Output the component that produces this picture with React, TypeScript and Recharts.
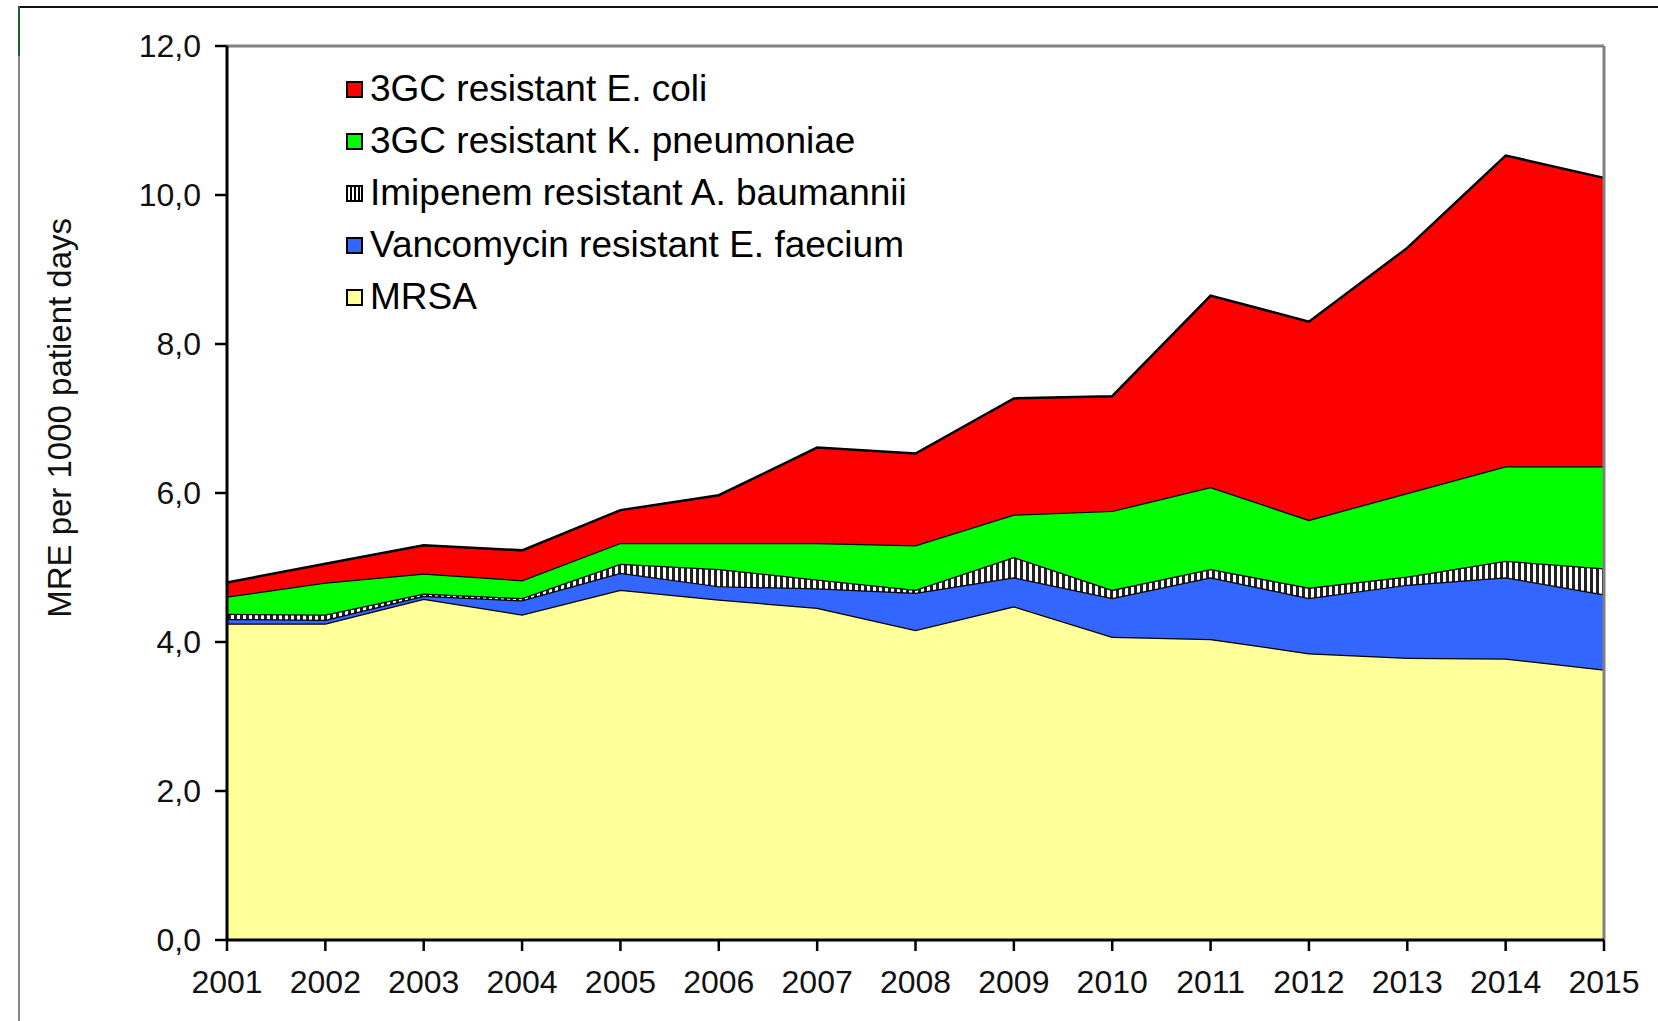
import { Area, AreaChart, Label, Legend, ReferenceLine, XAxis, YAxis } from 'recharts';

const years = ['2001', '2002', '2003', '2004', '2005', '2006', '2007', '2008', '2009', '2010', '2011', '2012', '2013', '2014', '2015'];

// per-pathogen rates, stacked bottom to top
const mrsa = [4.25, 4.25, 4.58, 4.37, 4.70, 4.57, 4.46, 4.16, 4.48, 4.07, 4.04, 3.85, 3.79, 3.78, 3.63];
const vre = [0.06, 0.05, 0.04, 0.19, 0.23, 0.18, 0.26, 0.50, 0.39, 0.52, 0.83, 0.74, 0.98, 1.09, 1.01];
const abau = [0.07, 0.07, 0.03, 0.03, 0.12, 0.23, 0.12, 0.04, 0.27, 0.11, 0.11, 0.14, 0.11, 0.22, 0.35];
const kpn = [0.23, 0.43, 0.27, 0.24, 0.28, 0.35, 0.49, 0.60, 0.57, 1.06, 1.10, 0.91, 1.12, 1.27, 1.37];
const ecoli = [0.19, 0.25, 0.38, 0.40, 0.44, 0.64, 1.28, 1.23, 1.56, 1.54, 2.57, 2.66, 3.29, 4.17, 3.87];

const yTicks = [0, 2, 4, 6, 8, 10, 12];

const FONT = '"Liberation Sans", Arial, Helvetica, sans-serif';

const series = [
  { key: 'mrsa', name: 'MRSA', fill: '#FFFF99', swatch: '#FFFF99' },
  { key: 'vre', name: 'Vancomycin resistant E. faecium', fill: '#3366FF', swatch: '#3366FF' },
  { key: 'abau', name: 'Imipenem resistant A. baumannii', fill: 'url(#hatch)', swatch: 'repeating-linear-gradient(90deg, #fff 0 2px, #000 2px 4px)' },
  { key: 'kpn', name: '3GC resistant K. pneumoniae', fill: '#00FF00', swatch: '#00FF00' },
  { key: 'ecoli', name: '3GC resistant E. coli', fill: '#FF0000', swatch: '#FF0000' },
];

const data = years.map((year, i) => ({
  year,
  mrsa: mrsa[i],
  vre: vre[i],
  abau: abau[i],
  kpn: kpn[i],
  ecoli: ecoli[i],
}));

const fmt = (v: number) => v.toFixed(1).replace('.', ',');

function renderLegend() {
  return (
    <div style={{ fontFamily: FONT, fontSize: 37, color: '#000' }}>
      {[...series].reverse().map((s) => (
        <div key={s.key} style={{ display: 'flex', alignItems: 'center', height: 52, lineHeight: '52px', whiteSpace: 'nowrap' }}>
          <span
            style={{
              display: 'inline-block',
              width: 13,
              height: 13,
              border: '2.5px solid #000',
              background: s.swatch,
              marginRight: 7,
            }}
          />
          <span>{s.name}</span>
        </div>
      ))}
    </div>
  );
}

function renderYLabel(props: any) {
  const vb = props.viewBox || { x: 0, y: 0, width: 0, height: 0 };
  const x = vb.x + vb.width - 167;
  const y = vb.y + vb.height * 0.416;
  return (
    <text
      x={x}
      y={y}
      transform={`rotate(-90, ${x}, ${y})`}
      textAnchor="middle"
      dominantBaseline="central"
      fontSize={33}
      fontFamily={FONT}
      fill="#111"
    >
      MRE per 1000 patient days
    </text>
  );
}

export default function App() {
  return (
    <div style={{ position: 'absolute', left: 0, top: 0, width: 1658, height: 1021, background: '#fff', overflow: 'hidden' }}>
      <div
        style={{
          position: 'absolute',
          left: 18,
          top: 6,
          width: 1650,
          height: 1020,
          borderTop: '2px solid #111',
          borderLeft: '2px solid #888',
        }}
      />
      <div style={{ position: 'absolute', left: 18, top: 6, width: 2, height: 50, background: '#1f5f2f' }} />
      <div style={{ position: 'absolute', left: 0, top: 0 }}>
        <AreaChart
          width={1658}
          height={1021}
          data={data}
          margin={{ top: 46, right: 54, bottom: 21, left: 147 }}
        >
          <defs>
            <pattern id="hatch" width="6" height="6" patternUnits="userSpaceOnUse">
              <rect width="6" height="6" fill="#fff" />
              <rect width="3" height="6" fill="#222" />
            </pattern>
          </defs>
          {series.map((s) => (
            <Area
              key={s.key}
              type="linear"
              dataKey={s.key}
              name={s.name}
              stackId="1"
              stroke="#000"
              strokeWidth={2.5}
              fill={s.fill}
              fillOpacity={1}
              dot={false}
              activeDot={false}
              isAnimationActive={false}
            />
          ))}
          <ReferenceLine y={12} stroke="#808080" strokeWidth={3} />
          <ReferenceLine x="2015" stroke="#808080" strokeWidth={3} />
          <XAxis
            dataKey="year"
            interval={0}
            height={60}
            tickSize={11}
            tickMargin={19}
            axisLine={{ stroke: '#000', strokeWidth: 3 }}
            tickLine={{ stroke: '#000', strokeWidth: 2.5 }}
            tick={{ fill: '#111', fontSize: 32, fontFamily: FONT }}
          />
          <YAxis
            domain={[0, 12]}
            ticks={yTicks}
            interval={0}
            width={80}
            tickFormatter={fmt}
            tickSize={12}
            tickMargin={14}
            axisLine={{ stroke: '#000', strokeWidth: 3 }}
            tickLine={{ stroke: '#000', strokeWidth: 2.5 }}
            tick={{ fill: '#111', fontSize: 32, fontFamily: FONT }}
          >
            <Label content={renderYLabel} />
          </YAxis>
          <Legend
            layout="vertical"
            align="center"
            verticalAlign="middle"
            content={renderLegend}
            wrapperStyle={{ left: 346, top: 63, width: 'auto' }}
          />
        </AreaChart>
      </div>
    </div>
  );
}
